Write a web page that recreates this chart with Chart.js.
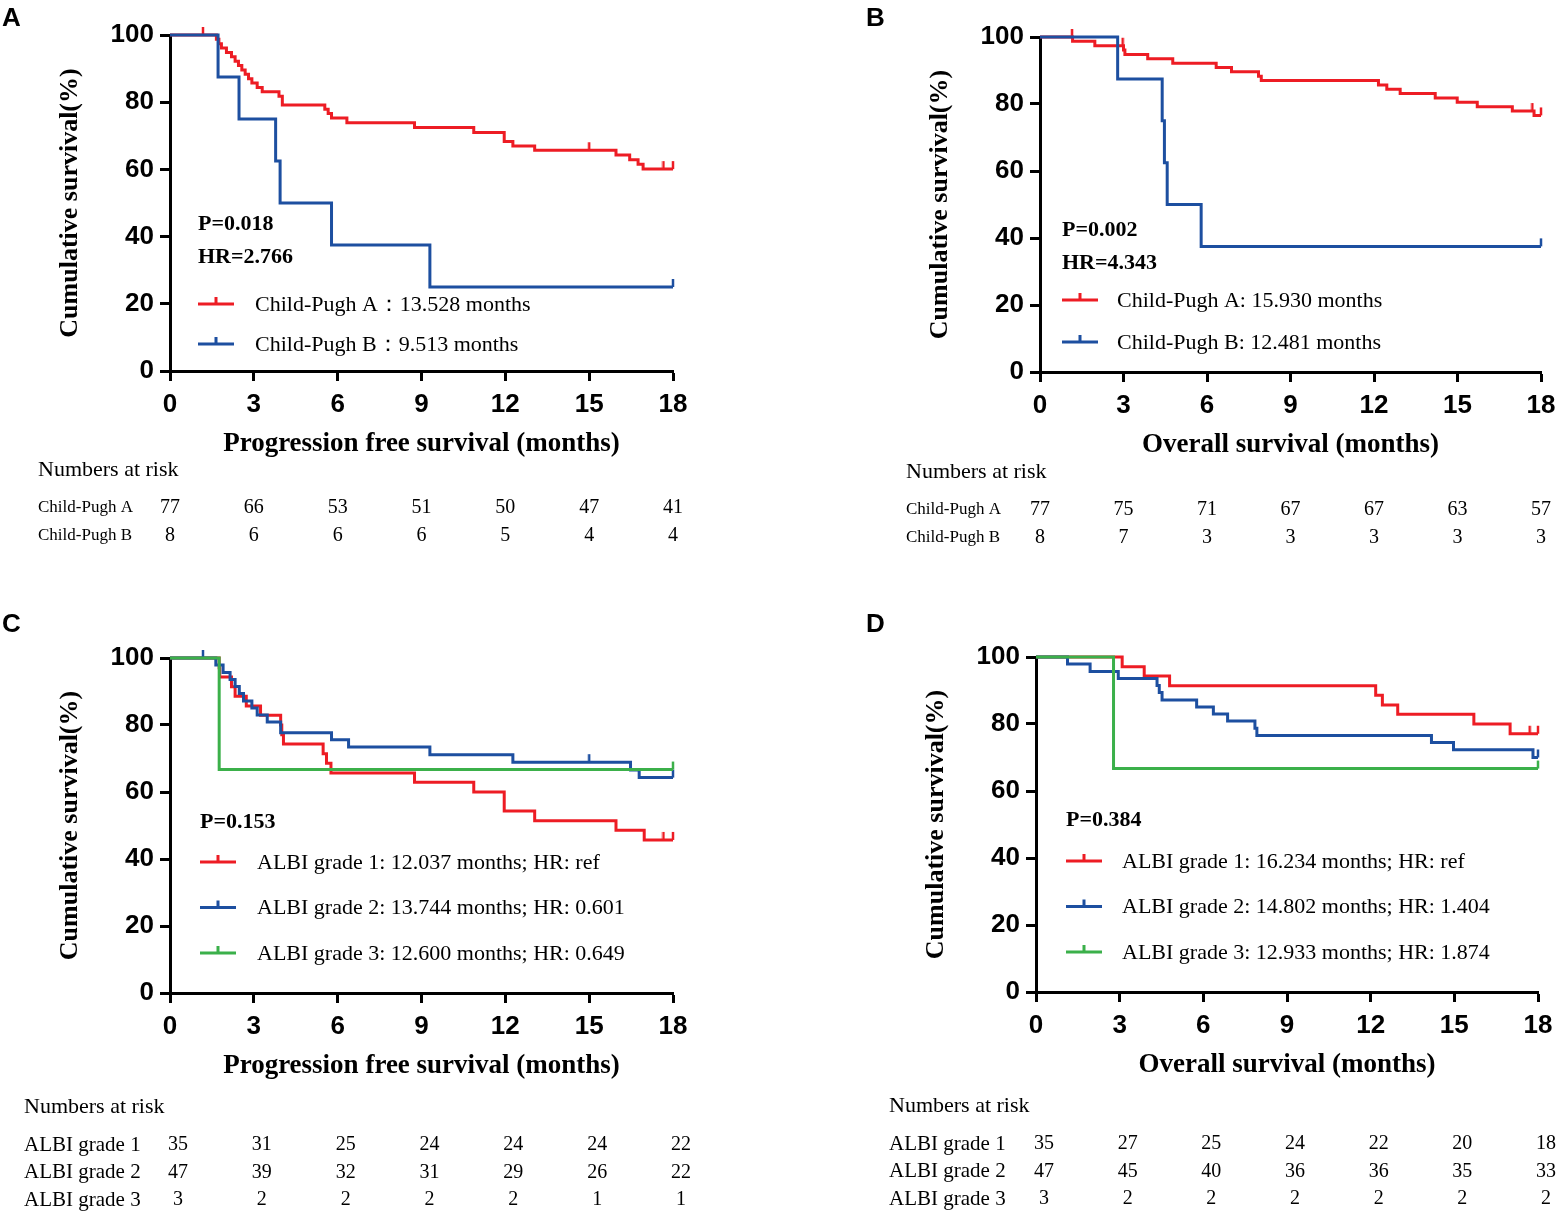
<!DOCTYPE html>
<html>
<head>
<meta charset="utf-8">
<script src="https://cdn.jsdelivr.net/npm/chart.js@4.4.0/dist/chart.umd.min.js"></script>
<style>
    body { margin: 0; background: #fff; width: 1556px; height: 1212px; position: relative; overflow: hidden; }
    canvas { position: absolute; }
</style>
</head>
<body>
<canvas id="panel-a" style="left:0;top:0" width="778" height="606"></canvas>
<canvas id="panel-b" style="left:778px;top:0" width="778" height="606"></canvas>
<canvas id="panel-c" style="left:0;top:606px" width="778" height="606"></canvas>
<canvas id="panel-d" style="left:778px;top:606px" width="778" height="606"></canvas>
<script>
// axis ticks
const months = [0, 3, 6, 9, 12, 15, 18];
const survivalTicks = [0, 20, 40, 60, 80, 100];

// A - PFS by Child-Pugh class
const pfsCpATime = [0, 1.66, 1.75, 1.84, 2.02, 2.2, 2.33, 2.45, 2.57, 2.69, 2.81, 2.93, 3.12, 3.3, 3.9, 4.02, 5.54, 5.66, 5.78, 6.33, 8.75, 10.87, 11.96, 12.27, 13.05, 15.96, 16.45, 16.75, 16.93, 18];
const pfsCpASurv = [100, 98.7, 97.4, 96.1, 94.8, 93.5, 92.2, 90.9, 89.6, 88.3, 87.0, 85.7, 84.4, 83.1, 81.8, 79.2, 77.9, 76.6, 75.3, 73.9, 72.5, 71.0, 68.3, 67.0, 65.7, 64.3, 62.9, 61.5, 60.1, 60.1];
const pfsCpACensor = [1.18, 15.0, 17.66, 18];
const pfsCpBTime = [0, 1.72, 2.47, 3.78, 3.94, 5.78, 9.3, 18];
const pfsCpBSurv = [100, 87.5, 75, 62.5, 50, 37.5, 25, 25];
const pfsCpBCensor = [18];
const riskPfsCpA = [77, 66, 53, 51, 50, 47, 41];
const riskPfsCpB = [8, 6, 6, 6, 5, 4, 4];

// B - OS by Child-Pugh class
const osCpATime = [0, 1.17, 1.97, 3.0, 3.05, 3.87, 4.77, 6.33, 6.88, 7.85, 7.95, 12.16, 12.46, 12.94, 14.2, 14.99, 15.71, 16.97, 17.75, 18];
const osCpASurv = [100, 98.7, 97.4, 96.1, 94.8, 93.5, 92.2, 90.9, 89.6, 88.3, 87.0, 85.7, 84.4, 83.1, 81.8, 80.5, 79.2, 77.9, 76.6, 76.6];
const osCpACensor = [1.15, 2.97, 17.69, 18];
const osCpBTime = [0, 2.79, 4.39, 4.47, 4.57, 5.79, 18];
const osCpBSurv = [100, 87.5, 75, 62.5, 50, 37.5, 37.5];
const osCpBCensor = [18];
const riskOsCpA = [77, 75, 71, 67, 67, 63, 57];
const riskOsCpB = [8, 7, 3, 3, 3, 3, 3];

// C - PFS by ALBI grade
const pfsG1Time = [0, 1.76, 1.78, 2.2, 2.33, 2.73, 3.24, 3.96, 4.0, 4.06, 5.48, 5.6, 5.76, 8.75, 10.87, 11.96, 13.05, 15.96, 16.97, 18];
const pfsG1Surv = [100, 97.1, 94.3, 91.4, 88.6, 85.7, 82.9, 80.0, 77.1, 74.3, 71.4, 68.6, 65.7, 62.9, 60.0, 54.3, 51.4, 48.6, 45.7, 45.7];
const pfsG1Censor = [17.66, 18];
const pfsG2Time = [0, 1.64, 1.9, 2.15, 2.33, 2.48, 2.63, 2.93, 3.12, 3.48, 3.96, 5.78, 6.39, 9.3, 12.27, 16.48, 16.79, 18];
const pfsG2Surv = [100, 97.9, 95.7, 93.6, 91.5, 89.4, 87.2, 85.1, 83.0, 80.9, 77.7, 75.6, 73.4, 71.1, 68.9, 66.6, 64.3, 64.3];
const pfsG2Censor = [1.18, 15.0, 18];
const pfsG3Time = [0, 1.76, 18];
const pfsG3Surv = [100, 66.7, 66.7];
const pfsG3Censor = [18];
const riskPfsG1 = [35, 31, 25, 24, 24, 24, 22];
const riskPfsG2 = [47, 39, 32, 31, 29, 26, 22];
const riskPfsG3 = [3, 2, 2, 2, 2, 1, 1];

// D - OS by ALBI grade
const osG1Time = [0, 3.09, 3.88, 4.79, 12.18, 12.42, 12.97, 15.7, 17.0, 18];
const osG1Surv = [100, 97.1, 94.3, 91.4, 88.6, 85.7, 82.9, 80.0, 77.1, 77.1];
const osG1Censor = [17.7, 18];
const osG2Time = [0, 1.13, 1.94, 2.95, 4.34, 4.42, 4.52, 5.76, 6.36, 6.87, 7.85, 7.92, 14.18, 14.97, 17.82, 18];
const osG2Surv = [100, 97.9, 95.7, 93.6, 91.5, 89.4, 87.2, 85.1, 83.0, 80.9, 78.7, 76.6, 74.5, 72.3, 70.0, 70.0];
const osG2Censor = [18];
const osG3Time = [0, 2.78, 18];
const osG3Surv = [100, 66.7, 66.7];
const osG3Censor = [18];
const riskOsG1 = [35, 27, 25, 24, 22, 20, 18];
const riskOsG2 = [47, 45, 40, 36, 36, 35, 33];
const riskOsG3 = [3, 2, 2, 2, 2, 2, 2];

const RED = '#ED1C24';
const BLUE = '#1D4FA0';
const GREEN = '#3BB04A';
const SERIF = "'Liberation Serif', 'Times New Roman', serif";
const SANS = "'Liberation Sans', Arial, sans-serif";

function stepValue(times, surv, t) {
    let v = surv[0];
    times.forEach((tt, i) => { if (tt <= t) v = surv[i]; });
    return v;
}

// small vertical tick used for censored observations
function censorMark(color) {
    const c = document.createElement('canvas');
    c.width = 4; c.height = 18;
    const g = c.getContext('2d');
    g.strokeStyle = color; g.lineWidth = 2.5;
    g.beginPath(); g.moveTo(2, 1); g.lineTo(2, 9); g.stroke();
    return c;
}

function curveDatasets(times, surv, censor, color) {
    return [{
        data: times.map((t, i) => ({x: t, y: surv[i]})),
        borderColor: color,
        borderWidth: 3,
        stepped: true,
        pointRadius: 0,
        clip: false
    }, {
        data: censor.map(t => ({x: t, y: stepValue(times, surv, t)})),
        showLine: false,
        pointStyle: censorMark(color),
        pointRadius: 8,
        clip: false
    }];
}

const annotate = {
    id: 'annotate',
    afterDraw(chart, args, o) {
        const {ctx, chartArea: a, scales: {x}} = chart;
        ctx.save();
        ctx.fillStyle = '#000';
        ctx.textAlign = 'left';
        ctx.textBaseline = 'top';
        ctx.font = `bold 26px ${SANS}`;
        ctx.fillText(o.letter, o.letterX, 6);

        ctx.save();
        ctx.translate(a.left - 100, (a.top + a.bottom) / 2);
        ctx.rotate(-Math.PI / 2);
        ctx.font = `bold 26px ${SERIF}`;
        ctx.textAlign = 'center';
        ctx.textBaseline = 'middle';
        ctx.fillText('Cumulative survival(%)', 0, 0);
        ctx.restore();

        ctx.textBaseline = 'middle';
        ctx.textAlign = 'center';
        ctx.font = `bold 27px ${SERIF}`;
        ctx.fillText(o.xTitle, (a.left + a.right) / 2, a.bottom + 73);

        ctx.textAlign = 'left';
        ctx.font = `bold 22px ${SERIF}`;
        o.stats.forEach((s, i) => ctx.fillText(s, a.left + o.statX, a.top + o.statY + i * 33));

        o.legend.forEach((e, i) => {
            const y = a.top + o.legY + i * o.legGap;
            const lx = a.left + o.statX;
            ctx.strokeStyle = e.color;
            ctx.lineWidth = 3;
            ctx.beginPath();
            ctx.moveTo(lx, y); ctx.lineTo(lx + 36, y);
            ctx.moveTo(lx + 18, y); ctx.lineTo(lx + 18, y - 7);
            ctx.stroke();
            ctx.font = `22px ${SERIF}`;
            ctx.fillText(e.label, a.left + o.legTextX, y + 1);
        });

        ctx.font = `22px ${SERIF}`;
        ctx.fillText('Numbers at risk', a.left + o.riskX, a.bottom + o.riskY);
        o.risk.forEach((r, i) => {
            const y = a.bottom + o.rowY + i * o.rowGap;
            ctx.textAlign = 'left';
            ctx.font = `${o.labelSize}px ${SERIF}`;
            ctx.fillText(r.label, a.left + o.riskX, y);
            ctx.textAlign = 'center';
            ctx.font = `20px ${SERIF}`;
            r.values.forEach((v, j) => ctx.fillText(String(v), x.getPixelForValue(months[j]) + o.numDx, y));
        });
        ctx.restore();
    }
};

function makePanel(id, area, curves, notes) {
    const W = 778, H = 606, xAxisH = 50;
    const axisBase = {
        border: {display: true, width: 3, color: '#000'},
        grid: {drawOnChartArea: false, drawTicks: true, tickLength: 10, tickWidth: 3, tickColor: '#000'}
    };
    return new Chart(document.getElementById(id), {
        type: 'line',
        data: {datasets: curves.flatMap(c => curveDatasets(c.time, c.surv, c.censor, c.color))},
        options: {
            responsive: false,
            animation: false,
            events: [],
            layout: {padding: {left: 0, top: area.top, right: W - area.right, bottom: H - area.bottom - xAxisH}},
            plugins: {legend: {display: false}, tooltip: {enabled: false}, annotate: notes},
            scales: {
                x: {
                    ...axisBase,
                    type: 'linear', min: 0, max: 18,
                    afterBuildTicks: axis => { axis.ticks = months.map(v => ({value: v})); },
                    afterFit: axis => { axis.height = xAxisH; axis.paddingLeft = 0; axis.paddingRight = 0; },
                    ticks: {color: '#000', padding: 8, font: {family: SANS, size: 26, weight: 'bold'}}
                },
                y: {
                    ...axisBase,
                    min: 0, max: 100,
                    afterBuildTicks: axis => { axis.ticks = survivalTicks.map(v => ({value: v})); },
                    afterFit: axis => { axis.width = area.left; axis.paddingTop = 0; axis.paddingBottom = 0; },
                    ticks: {color: '#000', padding: 6, font: {family: SANS, size: 26, weight: 'bold'}}
                }
            }
        },
        plugins: [annotate]
    });
}

makePanel('panel-a', {left: 170, right: 673, top: 35, bottom: 371}, [
    {time: pfsCpBTime, surv: pfsCpBSurv, censor: pfsCpBCensor, color: BLUE},
    {time: pfsCpATime, surv: pfsCpASurv, censor: pfsCpACensor, color: RED}
], {
    letter: 'A', letterX: 2,
    xTitle: 'Progression free survival (months)',
    stats: ['P=0.018', 'HR=2.766'], statX: 28, statY: 189,
    legend: [{color: RED, label: 'Child-Pugh A：13.528 months'}, {color: BLUE, label: 'Child-Pugh B：9.513 months'}],
    legY: 269, legGap: 40, legTextX: 85,
    riskX: -132, riskY: 99, rowY: 137, rowGap: 28, labelSize: 17, numDx: 0,
    risk: [{label: 'Child-Pugh A', values: riskPfsCpA}, {label: 'Child-Pugh B', values: riskPfsCpB}]
});

makePanel('panel-b', {left: 262, right: 763, top: 37, bottom: 372}, [
    {time: osCpBTime, surv: osCpBSurv, censor: osCpBCensor, color: BLUE},
    {time: osCpATime, surv: osCpASurv, censor: osCpACensor, color: RED}
], {
    letter: 'B', letterX: 88,
    xTitle: 'Overall survival (months)',
    stats: ['P=0.002', 'HR=4.343'], statX: 22, statY: 193,
    legend: [{color: RED, label: 'Child-Pugh A: 15.930 months'}, {color: BLUE, label: 'Child-Pugh B: 12.481 months'}],
    legY: 263, legGap: 42, legTextX: 77,
    riskX: -134, riskY: 100, rowY: 138, rowGap: 28, labelSize: 17, numDx: 0,
    risk: [{label: 'Child-Pugh A', values: riskOsCpA}, {label: 'Child-Pugh B', values: riskOsCpB}]
});

makePanel('panel-c', {left: 170, right: 673, top: 52, bottom: 387}, [
    {time: pfsG3Time, surv: pfsG3Surv, censor: pfsG3Censor, color: GREEN},
    {time: pfsG2Time, surv: pfsG2Surv, censor: pfsG2Censor, color: BLUE},
    {time: pfsG1Time, surv: pfsG1Surv, censor: pfsG1Censor, color: RED}
], {
    letter: 'C', letterX: 2,
    xTitle: 'Progression free survival (months)',
    stats: ['P=0.153'], statX: 30, statY: 164,
    legend: [
        {color: RED, label: 'ALBI grade 1: 12.037 months; HR: ref'},
        {color: BLUE, label: 'ALBI grade 2: 13.744 months; HR: 0.601'},
        {color: GREEN, label: 'ALBI grade 3: 12.600 months; HR: 0.649'}
    ],
    legY: 204, legGap: 45.5, legTextX: 87,
    riskX: -146, riskY: 114, rowY: 152, rowGap: 27.5, labelSize: 21, numDx: 8,
    risk: [
        {label: 'ALBI grade 1', values: riskPfsG1},
        {label: 'ALBI grade 2', values: riskPfsG2},
        {label: 'ALBI grade 3', values: riskPfsG3}
    ]
});

makePanel('panel-d', {left: 258, right: 760, top: 51, bottom: 386}, [
    {time: osG3Time, surv: osG3Surv, censor: osG3Censor, color: GREEN},
    {time: osG2Time, surv: osG2Surv, censor: osG2Censor, color: BLUE},
    {time: osG1Time, surv: osG1Surv, censor: osG1Censor, color: RED}
], {
    letter: 'D', letterX: 88,
    xTitle: 'Overall survival (months)',
    stats: ['P=0.384'], statX: 30, statY: 163,
    legend: [
        {color: RED, label: 'ALBI grade 1: 16.234 months; HR: ref'},
        {color: BLUE, label: 'ALBI grade 2: 14.802 months; HR: 1.404'},
        {color: GREEN, label: 'ALBI grade 3: 12.933 months; HR: 1.874'}
    ],
    legY: 204, legGap: 45.5, legTextX: 86,
    riskX: -147, riskY: 114, rowY: 152, rowGap: 27.5, labelSize: 21, numDx: 8,
    risk: [
        {label: 'ALBI grade 1', values: riskOsG1},
        {label: 'ALBI grade 2', values: riskOsG2},
        {label: 'ALBI grade 3', values: riskOsG3}
    ]
});
</script>
</body>
</html>
